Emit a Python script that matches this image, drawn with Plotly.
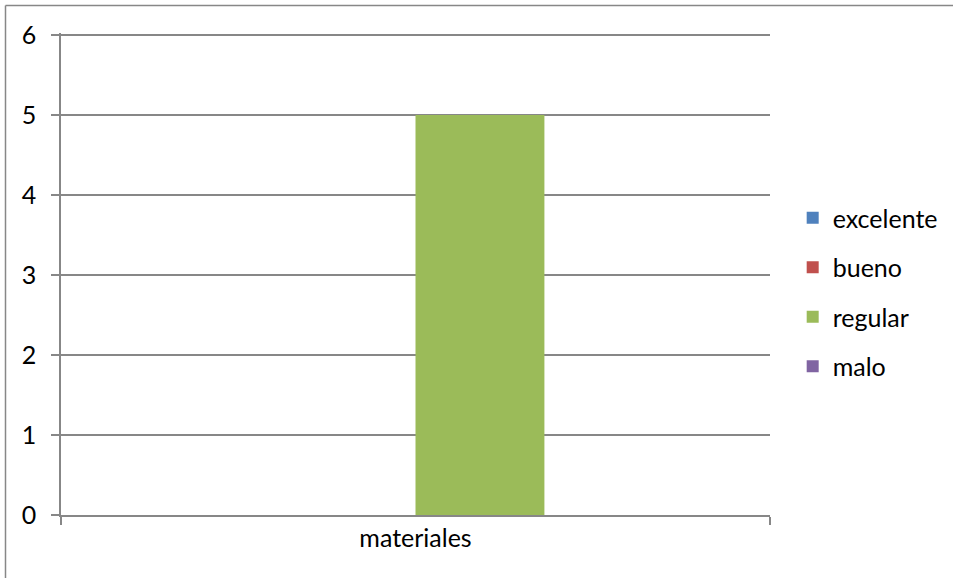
import plotly.graph_objects as go

# Rating counts per category
categories = ["materiales"]
series_names = ["excelente", "bueno", "regular", "malo"]
series_values = {
    "excelente": [0],
    "bueno": [0],
    "regular": [5],
    "malo": [0],
}
series_colors = {
    "excelente": "#4F81BD",
    "bueno": "#C0504D",
    "regular": "#9BBB59",
    "malo": "#8064A2",
}
y_ticks = [0, 1, 2, 3, 4, 5, 6]

FONT = "Lato, 'Open Sans', sans-serif"
GRID = "#878787"
FS = 25

fig = go.Figure()
for name in series_names:
    fig.add_trace(go.Bar(
        name=name,
        x=categories,
        y=series_values[name],
        marker=dict(color=series_colors[name], line=dict(width=0)),
        legendgroup=name,
    ))

# the outer chart frame (top and left edges), in plot-area paper units
frame_left = (5.5 - 61) / 709
frame_right = (953 - 61) / 709
frame_top = (515 - 5.5) / 482
frame_bottom = (515 - 578) / 482

fig.update_layout(
    width=953,
    height=578,
    margin=dict(l=61, r=183, t=33, b=63, autoexpand=False),
    paper_bgcolor="white",
    plot_bgcolor="white",
    barmode="group",
    bargap=0.2727,
    bargroupgap=0,
    font=dict(family=FONT, size=FS, color="#000000"),
    showlegend=True,
    legend=dict(
        x=1.032, y=0.4625, xanchor="left", yanchor="middle",
        font=dict(family=FONT, size=FS, color="#000000"),
        tracegroupgap=14,
        bgcolor="rgba(0,0,0,0)",
        itemwidth=30,
    ),
    xaxis=dict(
        showgrid=False,
        showline=True, linecolor=GRID, linewidth=1.5,
        ticks="outside", ticklen=8, tickcolor=GRID, tickwidth=1.5,
        tickson="boundaries",
        tickfont=dict(family=FONT, size=FS),
        fixedrange=True,
    ),
    yaxis=dict(
        range=[0, 6.025],
        tickvals=y_ticks,
        showgrid=True, gridcolor=GRID, gridwidth=1.5,
        zeroline=False,
        showline=True, linecolor=GRID, linewidth=1.5,
        ticks="outside", ticklen=8, tickcolor=GRID, tickwidth=1.5,
        tickfont=dict(family=FONT, size=FS),
        ticklabelstandoff=10,
        fixedrange=True,
    ),
    shapes=[
        dict(type="line", xref="paper", yref="paper",
             x0=frame_left, x1=frame_right, y0=frame_top, y1=frame_top,
             line=dict(color=GRID, width=1.5), layer="below"),
        dict(type="line", xref="paper", yref="paper",
             x0=frame_left, x1=frame_left, y0=frame_bottom, y1=frame_top,
             line=dict(color=GRID, width=1.5), layer="below"),
    ],
)

fig.write_html("out.html")
